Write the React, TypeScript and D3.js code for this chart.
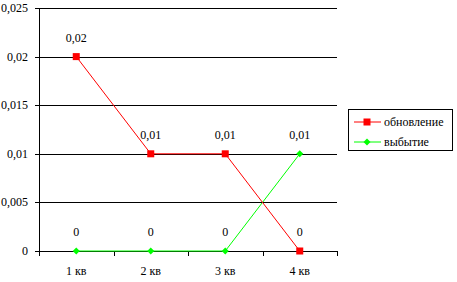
import React from "react";
import * as d3 from "d3";

const categories = ["1 кв", "2 кв", "3 кв", "4 кв"];
const renewal = [0.02, 0.01, 0.01, 0];
const retirement = [0, 0, 0, 0.01];
const yTicks = [0, 0.005, 0.01, 0.015, 0.02, 0.025];
const seriesNames = ["обновление", "выбытие"];

const fmt = (v: number) => String(+v.toFixed(4)).replace(".", ",");

export default function App() {
  const W = 457, H = 282;
  const left = 39, right = 337, top = 8, bottom = 251;
  const x = d3.scaleBand<string>().domain(categories).range([left, right]);
  const y = d3.scaleLinear().domain([0, 0.025]).range([bottom, top]);
  const cx = (c: string) => (x(c) as number) + x.bandwidth() / 2;
  const line = d3.line<number>().x((_, i) => cx(categories[i])).y((d) => y(d));
  const red = "#FF0000", green = "#00FF00";
  const diamond = (px: number, py: number, r: number) =>
    `M${px},${py - r}L${px + r},${py}L${px},${py + r}L${px - r},${py}Z`;
  const ticksX = [...categories.map((c) => x(c) as number), right];
  const ts = { fontFamily: "Liberation Serif", fontSize: 12 };
  return (
    <svg width={W} height={H} style={{ position: "absolute", left: 0, top: 0 }}>
      <rect width={W} height={H} fill="#fff" />
      {yTicks.map((t) => (
        <g key={t}>
          <line x1={left - 4} x2={right} y1={Math.round(y(t)) + 0.5} y2={Math.round(y(t)) + 0.5} stroke="#000" />
          <text style={ts} x={28} y={Math.round(y(t)) + 4} textAnchor="end">{fmt(t)}</text>
        </g>
      ))}
      <line x1={left + 0.5} x2={left + 0.5} y1={top} y2={bottom + 5} stroke="#000" />
      {ticksX.map((t, i) => (
        <line key={i} x1={Math.round(t) + 0.5} x2={Math.round(t) + 0.5} y1={bottom} y2={bottom + 5} stroke="#000" />
      ))}
      {categories.map((c) => (
        <text style={ts} key={c} x={cx(c)} y={275} textAnchor="middle">{c}</text>
      ))}
      <path d={line(retirement) || ""} fill="none" stroke={green} strokeWidth={1} />
      <path d={line(renewal) || ""} fill="none" stroke={red} strokeWidth={1} />
      {retirement.map((v, i) => (
        <path key={"g" + i} d={diamond(cx(categories[i]), y(v), 3.5)} fill={green} />
      ))}
      {renewal.map((v, i) => (
        <rect key={"r" + i} x={cx(categories[i]) - 3.5} y={y(v) - 3.5} width={7} height={7} fill={red} />
      ))}
      {renewal.map((v, i) => (
        <text style={ts} key={"lr" + i} x={cx(categories[i])} y={y(v) - 15} textAnchor="middle">{fmt(v)}</text>
      ))}
      {retirement.map((v, i) =>
        v === 0 ? null : (
          <text style={ts} key={"lg" + i} x={cx(categories[i])} y={y(v) - 15} textAnchor="middle">{fmt(v)}</text>
        )
      )}
      {retirement.map((v, i) =>
        v === 0 && renewal[i] !== 0 ? (
          <text style={ts} key={"lz" + i} x={cx(categories[i])} y={y(v) - 15} textAnchor="middle">{fmt(v)}</text>
        ) : null
      )}
      <rect x={348.5} y={109.5} width={104} height={41} fill="#fff" stroke="#000" />
      {seriesNames.map((n, i) => {
        const ly = 122 + i * 20;
        const col = i === 0 ? red : green;
        return (
          <g key={n}>
            <line x1={354} x2={381} y1={ly} y2={ly} stroke={col} />
            {i === 0 ? (
              <rect x={363.5} y={ly - 3.5} width={7} height={7} fill={col} />
            ) : (
              <path d={diamond(367, ly, 3.5)} fill={col} />
            )}
            <text style={ts} x={384} y={ly + 4}>{n}</text>
          </g>
        );
      })}
    </svg>
  );
}
